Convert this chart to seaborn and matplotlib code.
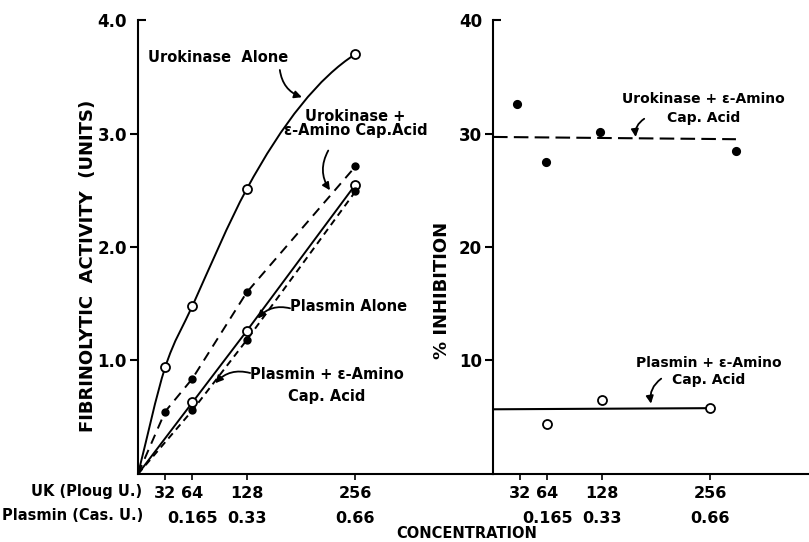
import numpy as np
import pandas as pd
import matplotlib
matplotlib.use('Agg')
import matplotlib.pyplot as plt
from matplotlib.path import Path
from matplotlib.patches import PathPatch
import seaborn as sns

sns.set_theme(style='white')
plt.rcParams['font.family'] = ['DejaVu Sans']
plt.rcParams['font.weight'] = 'bold'
plt.rcParams['text.color'] = 'black'
plt.rcParams['axes.labelcolor'] = 'black'
plt.rcParams['xtick.color'] = 'black'
plt.rcParams['ytick.color'] = 'black'

# left panel: fibrinolytic activity (units) vs concentration (UK Ploug units)
conc = [0, 32, 64, 128, 256]
uk_alone = [0, 0.94, 1.48, 2.51, 3.70]
uk_eaca = [0, 0.55, 0.84, 1.60, 2.71]
pl_conc = [0, 64, 128, 256]
pl_alone = [0, 0.63, 1.26, 2.55]
pl_eaca = [0, 0.56, 1.18, 2.49]

# right panel: % inhibition
inh_uk_x = [28, 62, 126, 286]
inh_uk_y = [32.6, 27.5, 30.1, 28.5]
inh_uk_fit_x = [0, 286]
inh_uk_fit_y = [29.7, 29.5]
inh_pl_x = [64, 128, 256]
inh_pl_y = [4.4, 6.5, 5.8]
inh_pl_fit_x = [0, 256]
inh_pl_fit_y = [5.7, 5.8]

uk_ticks = [32, 64, 128, 256]
uk_labels = ['32', '64', '128', '256']
pl_ticks = [64, 128, 256]
pl_labels = ['0.165', '0.33', '0.66']

fig = plt.figure(figsize=(8.09, 5.42), dpi=100)
ax = fig.add_axes([0.1706, 0.1255, 0.4388, 0.8375])
ax2 = fig.add_axes([0.6094, 0.1255, 0.3906, 0.8375])

FS = 10.5


def smooth(ax, xs, ys, **kw):
    # cubic hermite through the read points, drawn as bezier segments
    x = np.asarray(xs, float)
    y = np.asarray(ys, float)
    h = np.diff(x)
    sec = np.diff(y) / h
    d = np.zeros_like(x)
    d[1:-1] = (h[:-1] * sec[1:] + h[1:] * sec[:-1]) / (h[:-1] + h[1:])
    d[0] = sec[0]
    d[-1] = 2 * sec[-1] - d[-2]
    verts = [(x[0], y[0])]
    codes = [Path.MOVETO]
    for i in range(len(x) - 1):
        verts += [(x[i] + h[i] / 3, y[i] + d[i] * h[i] / 3),
                  (x[i + 1] - h[i] / 3, y[i + 1] - d[i + 1] * h[i] / 3),
                  (x[i + 1], y[i + 1])]
        codes += [Path.CURVE4] * 3
    ax.add_patch(PathPatch(Path(verts, codes), fill=False, **kw))


def dots(ax, x, y, filled, s):
    d = pd.DataFrame({'x': x, 'y': y})
    sns.scatterplot(data=d, x='x', y='y', ax=ax, s=s, zorder=5,
                    color='black' if filled else 'white',
                    edgecolor='black', linewidth=1.3, legend=False)


def line(ax, x, y, ls, lw=1.4):
    d = pd.DataFrame({'x': x, 'y': y})
    sns.lineplot(data=d, x='x', y='y', ax=ax, color='black', lw=lw,
                 sort=False, estimator=None, linestyle=ls, legend=False)


smooth(ax, conc, uk_alone, color='black', lw=1.4)
line(ax, conc, uk_eaca, (0, (5, 3.5)))
line(ax, pl_conc, pl_alone, '-')
line(ax, pl_conc, pl_eaca, (0, (3.5, 2.5)))
dots(ax, conc[1:], uk_alone[1:], False, 42)
dots(ax, conc[1:], uk_eaca[1:], True, 22)
dots(ax, pl_conc[1:], pl_alone[1:], False, 42)
dots(ax, pl_conc[1:], pl_eaca[1:], True, 22)

line(ax2, inh_uk_fit_x, inh_uk_fit_y, (0, (7, 3)), lw=1.5)
line(ax2, inh_pl_fit_x, inh_pl_fit_y, '-', lw=1.5)
dots(ax2, inh_uk_x, inh_uk_y, True, 28)
dots(ax2, inh_pl_x, inh_pl_y, False, 42)

ax.set_xlim(0, 418)
ax.set_ylim(0, 4.0)
ax2.set_xlim(0, 372)
ax2.set_ylim(0, 40)

for a in (ax, ax2):
    for s in ('top', 'right'):
        a.spines[s].set_visible(False)
    for s in ('left', 'bottom'):
        a.spines[s].set_color('black')
        a.spines[s].set_linewidth(1.5)
    a.set_xlabel('')
    a.set_ylabel('')
    a.xaxis.remove_overlapping_locs = False
    a.set_xticks(uk_ticks)
    a.set_xticklabels(uk_labels, fontsize=FS + 1)
    a.set_xticks(pl_ticks, minor=True)
    a.set_xticklabels(pl_labels, minor=True, fontsize=FS + 1)
    a.tick_params(axis='x', which='major', direction='out', length=4,
                  width=1.2, pad=5, bottom=True)
    a.tick_params(axis='x', which='minor', length=0, pad=27, bottom=True)
    a.tick_params(axis='y', which='major', direction='out', length=6,
                  width=1.5, pad=2, left=True, labelsize=FS + 1.5)
    a.tick_params(axis='y', which='minor', direction='in', length=6,
                  width=1.5, pad=8, left=True, labelsize=FS + 1.5)

# top value has its tick turned inward, as in the original
ax.set_yticks([1.0, 2.0, 3.0])
ax.set_yticklabels(['1.0', '2.0', '3.0'])
ax.set_yticks([4.0], minor=True)
ax.set_yticklabels(['4.0'], minor=True)
ax2.set_yticks([10, 20, 30])
ax2.set_yticklabels(['10', '20', '30'])
ax2.set_yticks([40], minor=True)
ax2.set_yticklabels(['40'], minor=True)

ax.text(-0.141, 0.458, 'FIBRINOLYTIC  ACTIVITY  (UNITS)', transform=ax.transAxes,
        rotation=90, ha='center', va='center', fontsize=FS + 2.5)
ax2.text(-0.161, 0.405, '% INHIBITION', transform=ax2.transAxes,
         rotation=90, ha='center', va='center', fontsize=FS + 2.5)

fig.text(0.1755, 0.0923, 'UK (Ploug U.)', ha='right', va='center', fontsize=FS)
fig.text(0.1768, 0.0498, 'Plasmin (Cas. U.)', ha='right', va='center', fontsize=FS)
fig.text(0.577, 0.0166, 'CONCENTRATION', ha='center', va='center', fontsize=FS)

arrow = dict(arrowstyle='-|>', color='black', lw=1.3, mutation_scale=11,
             connectionstyle='arc3,rad=0.3', shrinkA=0, shrinkB=0)

ax.text(94, 3.67, 'Urokinase  Alone', ha='center', va='center', fontsize=FS)
ax.annotate('', xy=(193, 3.32), xytext=(167, 3.56), arrowprops=arrow)

ax.text(256, 3.09, 'Urokinase +\nε-Amino Cap.Acid', ha='center', va='center',
        fontsize=FS, linespacing=0.95)
ax.annotate('', xy=(226, 2.50), xytext=(224, 2.85), arrowprops=arrow)

ax.text(179, 1.48, 'Plasmin Alone', ha='left', va='center', fontsize=FS)
ax.annotate('', xy=(141, 1.37), xytext=(179, 1.46), arrowprops=arrow)

ax.text(222, 0.78, 'Plasmin + ε-Amino\nCap. Acid', ha='center', va='center',
        fontsize=FS, linespacing=1.6)
ax.annotate('', xy=(91, 0.80), xytext=(132, 0.89), arrowprops=arrow)

ax2.text(248, 32.2, 'Urokinase + ε-Amino\nCap. Acid', ha='center', va='center',
         fontsize=FS - 0.5, linespacing=1.45)
ax2.annotate('', xy=(168, 29.7), xytext=(178, 31.3), arrowprops=arrow)

ax2.text(254, 9.0, 'Plasmin + ε-Amino\nCap. Acid', ha='center', va='center',
         fontsize=FS - 0.5, linespacing=1.3)
ax2.annotate('', xy=(186, 6.2), xytext=(198, 8.4), arrowprops=arrow)

fig.savefig('out.png', dpi=100)
